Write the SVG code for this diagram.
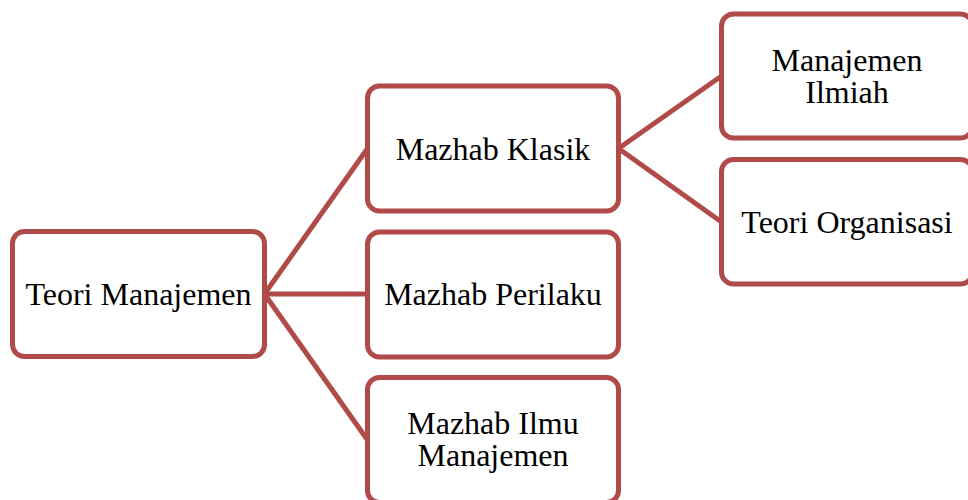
<svg xmlns="http://www.w3.org/2000/svg" width="968" height="500" viewBox="0 0 968 500">
<style>
.box{fill:#fff;stroke:#b04b49;stroke-width:5}
.lbl{font-family:"Liberation Serif","Times New Roman",serif;font-size:32px;fill:#000;text-anchor:middle}
.con{stroke:#b04b49;stroke-width:5;fill:none}
</style>
<rect width="968" height="500" fill="#fff"/>
<g id="connectors">
<line class="con" x1="264.5" y1="294" x2="367.5" y2="148.5"/>
<line class="con" x1="264.5" y1="294" x2="367.5" y2="294"/>
<line class="con" x1="264.5" y1="294" x2="367.5" y2="440"/>
<line class="con" x1="618.5" y1="148.5" x2="721.5" y2="76"/>
<line class="con" x1="618.5" y1="148.5" x2="721.5" y2="222"/>
</g>
<g id="teori-manajemen">
<rect class="box" x="12.5" y="231.5" width="252" height="125" rx="12"/>
<text class="lbl" x="138.5" y="305">Teori Manajemen</text>
</g>
<g id="mazhab-klasik">
<rect class="box" x="367.5" y="86" width="251" height="125" rx="12"/>
<text class="lbl" x="493" y="159.5">Mazhab Klasik</text>
</g>
<g id="mazhab-perilaku">
<rect class="box" x="367.5" y="232" width="251" height="125" rx="12"/>
<text class="lbl" x="493" y="305">Mazhab Perilaku</text>
</g>
<g id="mazhab-ilmu-manajemen">
<rect class="box" x="367.5" y="377.5" width="251" height="125" rx="12"/>
<text class="lbl" x="493" y="434">Mazhab Ilmu</text>
<text class="lbl" x="493" y="466">Manajemen</text>
</g>
<g id="manajemen-ilmiah">
<rect class="box" x="721.5" y="14" width="251" height="124" rx="12"/>
<text class="lbl" x="847" y="70.5">Manajemen</text>
<text class="lbl" x="847" y="102.5">Ilmiah</text>
</g>
<g id="teori-organisasi">
<rect class="box" x="721.5" y="159.5" width="251" height="124.5" rx="12"/>
<text class="lbl" x="847" y="233">Teori Organisasi</text>
</g>
</svg>
